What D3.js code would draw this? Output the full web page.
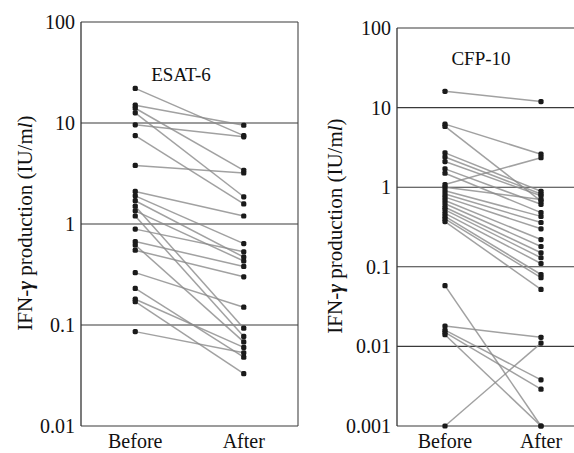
<!DOCTYPE html>
<html>
<head>
<meta charset="utf-8">
<script src="https://cdn.jsdelivr.net/npm/d3@7"></script>
<style>
  body { margin: 0; background: #fff; }
  svg { display: block; }
  text { font-family: "Liberation Serif", "DejaVu Serif", serif; fill: #111; }
</style>
</head>
<body>
<svg id="chart" width="574" height="453"></svg>
<script>
// Categories on the x axis
const timepoints = ['Before', 'After'];

// ESAT-6 panel: paired values (IU/ml), same index = same subject
const esatTicks = [0.01, 0.1, 1, 10, 100];
const esatBefore = [22, 15, 14, 12.6, 9.6, 7.5, 3.8, 2.1, 1.9, 1.7, 1.5, 1.35, 1.2, 0.89, 0.67, 0.62, 0.55, 0.33, 0.23, 0.18, 0.17, 0.086];
const esatAfter  = [7.5, 9.5, 3.4, 1.86, 7.3, 1.58, 3.2, 1.2, 0.64, 0.47, 0.093, 0.43, 0.077, 0.53, 0.38, 0.068, 0.30, 0.15, 0.048, 0.06, 0.033, 0.053];

// CFP-10 panel
const cfpTicks = [0.001, 0.01, 0.1, 1, 10, 100];
const cfpBefore = [16, 6.2, 5.8, 2.7, 2.4, 2.1, 1.7, 1.5, 1.08, 1.0, 0.9, 0.82, 0.75, 0.68, 0.62, 0.56, 0.52, 0.47, 0.43, 0.4, 0.37, 0.058, 0.018, 0.016, 0.015, 0.014, 0.001];
const cfpAfter  = [11.9, 2.6, 0.67, 0.89, 0.82, 0.78, 0.61, 0.48, 2.35, 0.7, 0.43, 0.36, 0.30, 0.22, 0.18, 0.15, 0.13, 0.11, 0.08, 0.073, 0.052, 0.001, 0.013, 0.0038, 0.0029, 0.001, 0.011];

const svg = d3.select('#chart');

/**
 * Draw one paired before/after panel
 */
function drawPanel(opts) {
    const g = svg.append('g').attr('class', 'panel');

    const x = d3.scalePoint()
        .domain(timepoints)
        .range([opts.left, opts.right])
        .padding(0.5);

    const y = d3.scaleLog()
        .domain(d3.extent(opts.ticks))
        .range([opts.bottom, opts.top]);

    // Horizontal lines at each decade
    g.selectAll('.grid')
        .data(opts.ticks)
        .enter().append('line')
        .attr('class', 'grid')
        .attr('x1', opts.left)
        .attr('x2', opts.right)
        .attr('y1', d => y(d))
        .attr('y2', d => y(d))
        .attr('stroke', '#3a3a3a')
        .attr('stroke-width', 1.1);

    // Frame sides
    g.append('line')
        .attr('x1', opts.left).attr('x2', opts.left)
        .attr('y1', opts.top).attr('y2', opts.bottom)
        .attr('stroke', '#333').attr('stroke-width', 1.3);
    g.append('line')
        .attr('x1', opts.right).attr('x2', opts.right)
        .attr('y1', opts.top).attr('y2', opts.bottom)
        .attr('stroke', '#444').attr('stroke-width', 1.1);

    // Tick labels
    g.selectAll('.tick-label')
        .data(opts.ticks)
        .enter().append('text')
        .attr('class', 'tick-label')
        .attr('x', opts.left - 6)
        .attr('y', d => y(d))
        .attr('dy', '0.35em')
        .attr('text-anchor', 'end')
        .attr('font-size', '20px')
        .text(d => String(d));

    // x labels
    g.selectAll('.x-label')
        .data(timepoints)
        .enter().append('text')
        .attr('class', 'x-label')
        .attr('x', d => x(d))
        .attr('y', 448)
        .attr('text-anchor', 'middle')
        .attr('font-size', '20px')
        .text(d => d);

    // Paired lines
    const pairs = opts.before.map((b, i) => ({ b: b, a: opts.after[i] }));
    g.selectAll('.pair')
        .data(pairs)
        .enter().append('line')
        .attr('class', 'pair')
        .attr('x1', x('Before'))
        .attr('x2', x('After'))
        .attr('y1', d => y(d.b))
        .attr('y2', d => y(d.a))
        .attr('stroke', '#8a8a8a')
        .attr('stroke-width', 1.5)
        .attr('stroke-opacity', 0.8);

    // Points (small dark squares)
    const pts = [];
    pairs.forEach(p => {
        pts.push({ t: 'Before', v: p.b });
        pts.push({ t: 'After', v: p.a });
    });
    g.selectAll('.pt')
        .data(pts)
        .enter().append('rect')
        .attr('class', 'pt')
        .attr('x', d => x(d.t) - 2.6)
        .attr('y', d => y(d.v) - 2.6)
        .attr('width', 5.2)
        .attr('height', 5.2)
        .attr('rx', 1.6)
        .attr('fill', '#1a1a1a');

    // Panel title
    g.append('text')
        .attr('x', opts.titleX)
        .attr('y', opts.titleY)
        .attr('text-anchor', 'middle')
        .attr('font-size', '19px')
        .text(opts.title);

    // Y axis label
    const lab = g.append('text')
        .attr('transform', `translate(${opts.labelX},${opts.labelY}) rotate(-90)`)
        .attr('text-anchor', 'middle')
        .attr('font-size', '21px');
    lab.append('tspan').text('IFN-');
    lab.append('tspan').attr('font-weight', 'bold').attr('font-style', 'italic').text('γ');
    lab.append('tspan').text(' production (IU/m');
    lab.append('tspan').attr('font-style', 'italic').text('l');
    lab.append('tspan').text(')');
}

drawPanel({
    left: 81, right: 298, top: 22, bottom: 426,
    ticks: esatTicks, before: esatBefore, after: esatAfter,
    title: 'ESAT-6', titleX: 181, titleY: 81,
    labelX: 32, labelY: 223
});

drawPanel({
    left: 397, right: 589, top: 28, bottom: 426,
    ticks: cfpTicks, before: cfpBefore, after: cfpAfter,
    title: 'CFP-10', titleX: 481, titleY: 65,
    labelX: 342, labelY: 226
});
</script>
</body>
</html>
